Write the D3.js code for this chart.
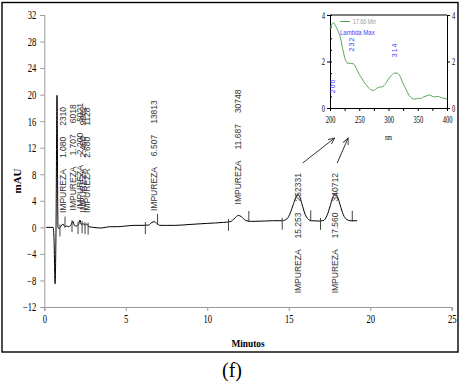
<!DOCTYPE html>
<html>
<head>
<meta charset="utf-8">
<script src="https://cdn.jsdelivr.net/npm/d3@7"></script>
<style>
  body { margin: 0; background: #fff; }
  svg { display: block; }
</style>
</head>
<body>
<div id="chart"></div>
<script>
// chromatogram trace: [minutes, mAU]
var trace = [
  [0.12, 0], [0.54, 0], [0.6, -2], [0.66, -8.5], [0.72, 0], [0.78, 19.9], [0.84, 0],
  [0.9, -0.2], [1.0, 0.1], [1.15, 0.5], [1.25, 0.1], [1.35, 0.2], [1.5, 0.1], [1.62, 0.3],
  [1.76, 0.9], [1.85, 0.3], [1.98, 0.2], [2.1, 0.4], [2.19, 1.1], [2.28, 0.4], [2.38, 0.6],
  [2.48, 0.3], [2.6, 0.5], [2.75, 0.1], [3.0, 0.0], [3.5, -0.1], [4.0, 0.1], [4.5, 0.1],
  [5.0, 0.2], [5.5, 0.3], [6.0, 0.3], [6.4, 0.35], [6.6, 0.75], [6.75, 0.85], [6.9, 0.6],
  [7.1, 0.3], [7.5, 0.3], [8.0, 0.3], [9.0, 0.45], [10.0, 0.6], [11.0, 0.75], [11.4, 0.85],
  [11.7, 1.4], [11.9, 1.8], [12.1, 1.6], [12.35, 1.05], [12.7, 0.9], [13.5, 0.95],
  [14.0, 1.0], [14.6, 1.0], [14.9, 1.3], [15.1, 2.2], [15.3, 3.6], [15.45, 4.6], [15.55, 5.0],
  [15.65, 4.7], [15.8, 3.6], [16.0, 2.0], [16.2, 1.2], [16.4, 1.0], [16.8, 0.95], [17.1, 1.0],
  [17.35, 1.8], [17.55, 3.3], [17.7, 4.5], [17.85, 5.0], [18.0, 4.6], [18.15, 3.4],
  [18.35, 1.9], [18.55, 1.2], [18.8, 1.0], [19.2, 1.0]
];

// peak annotations
var peakNames = ["IMPUREZA", "IMPUREZA", "IMPUREZA", "IMPUREZA", "IMPUREZA", "IMPUREZA", "IMPUREZA", "IMPUREZA", "IMPUREZA"];
var retTimes = ["1.080", "1.707", "2.200", "2.460", "2.680", "6.507", "11.687", "15.253", "17.560"];
var areas = ["2310", "6018", "5021", "9982", "1128", "13813", "30748", "252331", "340712"];
var peakPos = [1.15, 1.76, 2.19, 2.38, 2.6, 6.75, 11.9, 15.55, 17.85];
var peakTop = [0.5, 0.9, 1.1, 0.6, 0.5, 0.8, 1.8, 5.0, 5.0];
var labelSide = ["up", "up", "up", "up", "up", "up", "up", "down", "down"];

// integration markers (minutes, 1 = above baseline, -1 = below)
var markerTimes = [0.96, 1.27, 1.70, 2.07, 2.32, 2.5, 2.69, 6.2, 6.95, 11.3, 12.55, 14.6, 16.35, 16.95, 18.9];
var markerSide = [-1, 1, -1, -1, -1, -1, -1, -1, 1, -1, 1, -1, 1, -1, 1];

var xTicks = [0, 5, 10, 15, 20, 25];
var yTicks = [-12, -8, -4, 0, 4, 8, 12, 16, 20, 24, 28, 32];

// UV spectrum inset: [nm, mAU]
var spectrum = [
  [200, 3.4], [203, 3.6], [206, 3.67], [210, 3.5], [214, 3.3], [218, 3.0], [222, 2.5],
  [226, 2.1], [230, 1.93], [235, 1.92], [240, 1.9], [245, 1.7], [250, 1.45], [255, 1.25],
  [260, 1.05], [265, 0.9], [270, 0.78], [275, 0.76], [280, 0.85], [285, 0.9], [290, 0.92],
  [295, 1.05], [300, 1.25], [305, 1.4], [310, 1.5], [315, 1.5], [320, 1.35], [325, 1.05],
  [330, 0.8], [335, 0.55], [340, 0.42], [345, 0.38], [350, 0.42], [355, 0.4], [360, 0.48],
  [365, 0.52], [370, 0.56], [375, 0.5], [380, 0.48], [385, 0.5], [390, 0.44], [395, 0.42], [400, 0.38]
];
var specXTicks = [200, 225, 250, 275, 300, 325, 350, 375, 400];
var specXLabels = [200, 250, 300, 350, 400];
var specYTicks = [0, 2, 4];
var specYMinor = [0, 0.5, 1, 1.5, 2, 2.5, 3, 3.5, 4];
var lambdaVals = ["206", "232", "314"];
var lambdaNm = [205, 236, 311];
var lambdaY = [0.95, 2.75, 2.5];
var legendText = "17.66 Min";

var width = 468, height = 387;
var svg = d3.select("#chart").append("svg")
    .attr("width", width)
    .attr("height", height);

// frame
svg.append("rect")
    .attr("x", 2).attr("y", 2.5)
    .attr("width", 456).attr("height", 349.5)
    .attr("fill", "none")
    .attr("stroke", "#000")
    .attr("stroke-width", 1.4);

var x = d3.scaleLinear().domain([0, 25]).range([44.3, 451.7]);
var y = d3.scaleLinear().domain([-12, 32]).range([307, 15]);

var serif = "'Liberation Serif', 'Times New Roman', serif";
var sans = "'Liberation Sans', Arial, sans-serif";

function squeeze(sel, k) {
    // narrow the axis digits like the original condensed font
    sel.selectAll("text").each(function() {
        var t = d3.select(this);
        var tx = +t.attr("x") || 0, ty = +t.attr("y") || 0;
        t.attr("x", 0).attr("y", 0)
         .attr("transform", "translate(" + tx + "," + ty + ") scale(" + k + ",1)");
    });
}

// axes
var gx = svg.append("g")
    .attr("transform", "translate(0," + y(-12) + ")")
    .call(d3.axisBottom(x).tickValues(xTicks).tickSize(4).tickPadding(3));
var gy = svg.append("g")
    .attr("transform", "translate(" + x(0) + ",0)")
    .call(d3.axisLeft(y).tickValues(yTicks).tickSize(4).tickPadding(4));

[gx, gy].forEach(function(g) {
    g.select(".domain").attr("stroke", "#999");
    g.selectAll(".tick line").attr("stroke", "#999");
    g.selectAll("text").attr("font-family", serif).attr("font-size", 12).attr("fill", "#000");
    squeeze(g, 0.72);
});

svg.append("text")
    .attr("transform", "translate(21,181) rotate(-90)")
    .attr("text-anchor", "middle")
    .attr("font-family", serif).attr("font-weight", "bold").attr("font-size", 11)
    .text("mAU");

svg.append("text")
    .attr("transform", "translate(248,347) scale(0.85,1)")
    .attr("text-anchor", "middle")
    .attr("font-family", serif).attr("font-weight", "bold").attr("font-size", 11)
    .text("Minutos");

svg.append("text")
    .attr("x", 232).attr("y", 377)
    .attr("text-anchor", "middle")
    .attr("font-family", serif).attr("font-size", 20)
    .text("(f)");

// trace
var line = d3.line()
    .x(function(d) { return x(d[0]); })
    .y(function(d) { return y(d[1]); })
    .curve(d3.curveMonotoneX);

svg.append("path")
    .datum(trace)
    .attr("d", line)
    .attr("fill", "none")
    .attr("stroke", "#000")
    .attr("stroke-width", 1);

// value of the trace at a given time, for the markers
function traceAt(t) {
    var i = d3.bisector(function(d) { return d[0]; }).left(trace, t);
    if (i <= 0) return trace[0][1];
    if (i >= trace.length) return trace[trace.length - 1][1];
    var a = trace[i - 1], b = trace[i];
    return a[1] + (b[1] - a[1]) * (t - a[0]) / (b[0] - a[0]);
}

svg.append("g").selectAll("line")
    .data(markerTimes)
    .enter().append("line")
    .attr("x1", function(d) { return x(d); })
    .attr("x2", function(d) { return x(d); })
    .attr("y1", function(d, i) { return markerSide[i] > 0 ? y(traceAt(d)) - 10 : y(traceAt(d)) - 3; })
    .attr("y2", function(d, i) { return markerSide[i] > 0 ? y(traceAt(d)) + 1 : y(traceAt(d)) + 9; })
    .attr("stroke", "#444")
    .attr("stroke-width", 1);

// peak labels
var labels = svg.append("g").selectAll("text")
    .data(retTimes)
    .enter().append("text")
    .attr("transform", function(d, i) {
        var yy = labelSide[i] === "up" ? y(peakTop[i]) - 11 : y(0) + 66;
        return "translate(" + x(peakPos[i]) + "," + yy + ") rotate(-90)";
    })
    .attr("dominant-baseline", "central")
    .attr("font-family", sans)
    .attr("font-size", 8.5)
    .attr("fill", "#333");

labels.append("tspan").text(function(d, i) { return peakNames[i]; });
labels.append("tspan").attr("dx", 11).text(function(d) { return d; });
labels.append("tspan").attr("dx", 11).text(function(d, i) { return areas[i]; });

// inset spectrum
var sx = d3.scaleLinear().domain([200, 400]).range([330, 447]);
var sy = d3.scaleLinear().domain([0, 4]).range([108, 15]);

var inset = svg.append("g");

inset.append("line")
    .attr("x1", sx(200)).attr("x2", sx(400))
    .attr("y1", sy(4)).attr("y2", sy(4))
    .attr("stroke", "#000").attr("stroke-width", 1);

var sgx = inset.append("g")
    .attr("transform", "translate(0," + sy(0) + ")")
    .call(d3.axisBottom(sx).tickValues(specXTicks).tickSize(3).tickPadding(5).tickFormat(function(d) {
        return specXLabels.indexOf(d) >= 0 ? d : "";
    }));
var sgyl = inset.append("g")
    .attr("transform", "translate(" + sx(200) + ",0)")
    .call(d3.axisLeft(sy).tickValues(specYTicks).tickSize(3).tickPadding(2).tickFormat(d3.format("d")));
var sgyr = inset.append("g")
    .attr("transform", "translate(" + sx(400) + ",0)")
    .call(d3.axisRight(sy).tickValues(specYTicks).tickSize(3).tickPadding(2).tickFormat(d3.format("d")));

// minor ticks on the left inset axis
inset.append("g")
    .attr("transform", "translate(" + sx(200) + ",0)")
    .call(d3.axisRight(sy).tickValues(specYMinor).tickSize(2).tickFormat(""))
    .select(".domain").remove();

[sgx, sgyl, sgyr].forEach(function(g) {
    g.select(".domain").attr("stroke", "#000");
    g.selectAll(".tick line").attr("stroke", "#000");
    g.selectAll("text").attr("font-family", serif).attr("font-size", 10).attr("fill", "#000");
    squeeze(g, 0.65);
});

inset.append("path")
    .datum(spectrum)
    .attr("d", d3.line()
        .x(function(d) { return sx(d[0]); })
        .y(function(d) { return sy(d[1]); })
        .curve(d3.curveMonotoneX))
    .attr("fill", "none")
    .attr("stroke", "#5aa35a")
    .attr("stroke-width", 1);

inset.append("line")
    .attr("x1", 340).attr("x2", 350)
    .attr("y1", 21.5).attr("y2", 21.5)
    .attr("stroke", "#5aa35a").attr("stroke-width", 1);
inset.append("text")
    .attr("transform", "translate(353,24) scale(0.75,1)")
    .attr("font-family", sans).attr("font-size", 7).attr("fill", "#999")
    .text(legendText);
inset.append("text")
    .attr("transform", "translate(340,35) scale(0.75,1)")
    .attr("font-family", sans).attr("font-size", 8).attr("fill", "#4444ff")
    .text("Lambda Max");

inset.selectAll(".lam")
    .data(lambdaVals)
    .enter().append("text")
    .attr("transform", function(d, i) {
        return "translate(" + sx(lambdaNm[i]) + "," + sy(lambdaY[i]) + ") rotate(-90)";
    })
    .attr("text-anchor", "middle")
    .attr("dominant-baseline", "central")
    .attr("font-family", sans).attr("font-size", 7).attr("fill", "#4444ff")
    .attr("letter-spacing", 1)
    .text(function(d) { return d; });

inset.append("text")
    .attr("transform", "translate(" + sx(300) + ",140) scale(0.7,1)")
    .attr("text-anchor", "middle")
    .attr("font-family", serif).attr("font-size", 8)
    .text("nm");

// arrows from the two main peaks to the spectrum
svg.append("defs").append("marker")
    .attr("id", "arr")
    .attr("viewBox", "0 0 10 10")
    .attr("refX", 9).attr("refY", 5)
    .attr("markerWidth", 7).attr("markerHeight", 7)
    .attr("orient", "auto")
    .append("path")
    .attr("d", "M0,1 L9,5 L0,9")
    .attr("fill", "none")
    .attr("stroke", "#333")
    .attr("stroke-width", 1.3);

var arrowFrom = [7, 8];
var arrowTo = [208, 231];
svg.append("g").selectAll("line")
    .data(arrowFrom)
    .enter().append("line")
    .attr("x1", function(d, i) { return x(peakPos[d]) + (i === 0 ? 5 : 2); })
    .attr("y1", 163)
    .attr("x2", function(d, i) { return sx(arrowTo[i]); })
    .attr("y2", sy(0) + 30)
    .attr("stroke", "#333")
    .attr("stroke-width", 1)
    .attr("marker-end", "url(#arr)");
</script>
</body>
</html>
